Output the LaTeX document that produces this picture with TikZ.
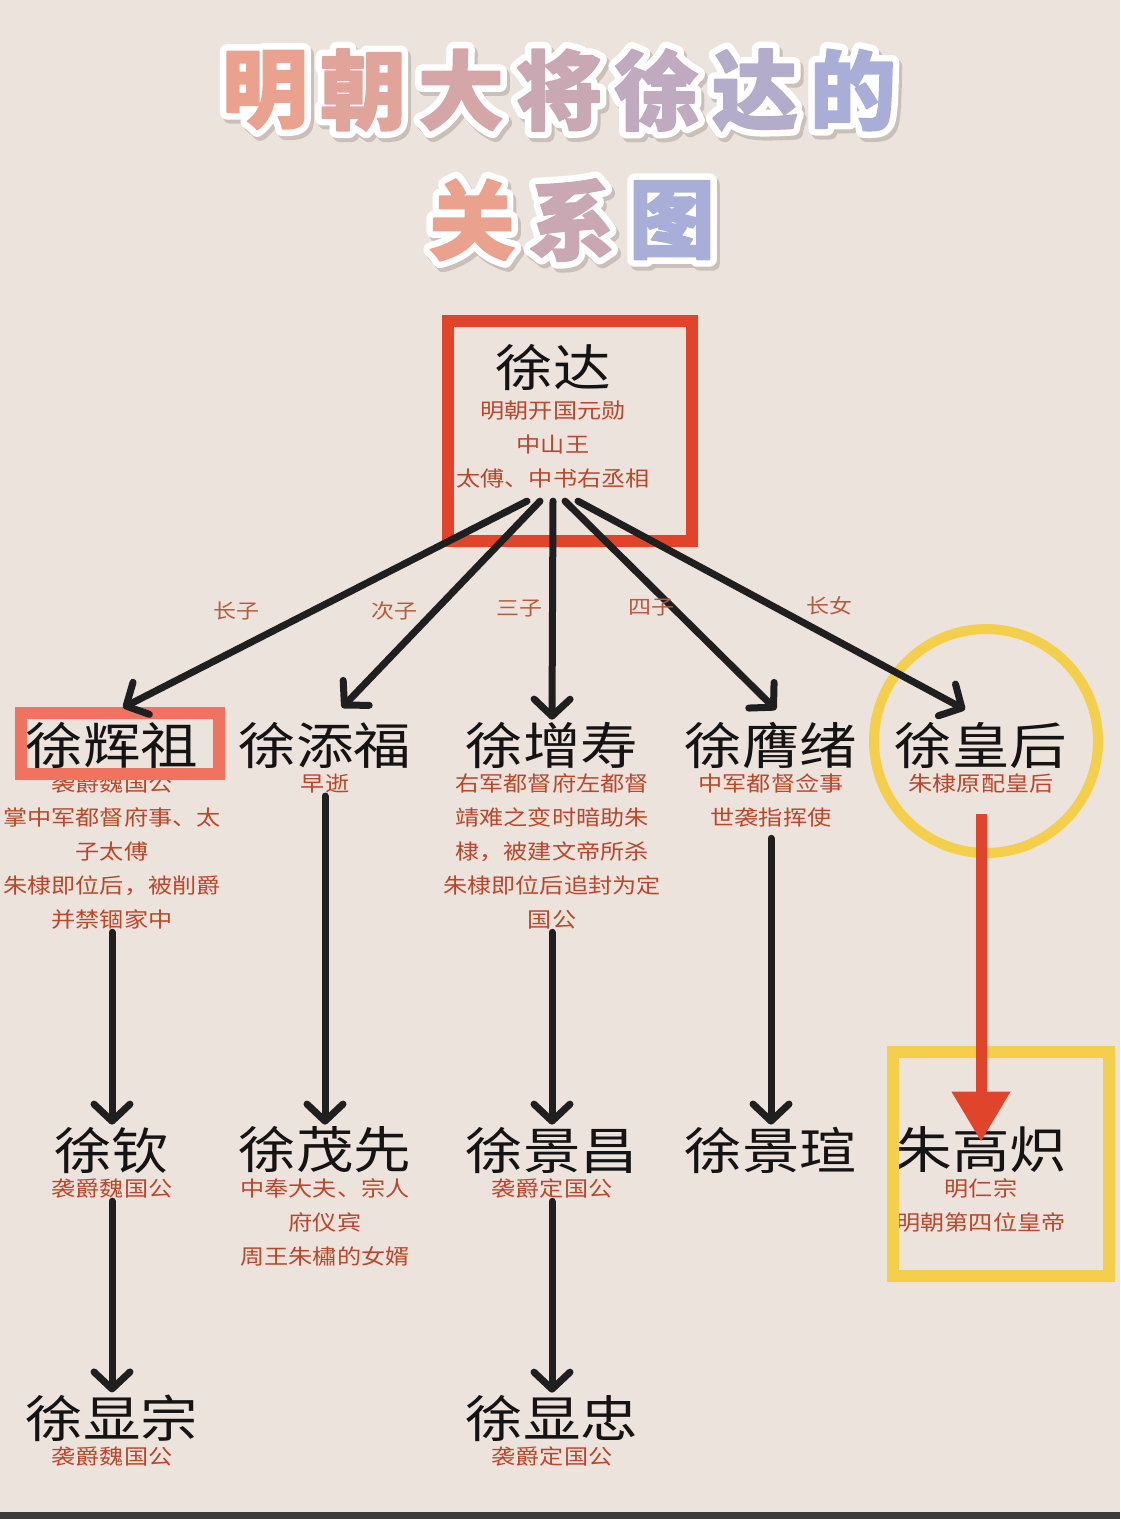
\documentclass[tikz,border=0pt]{standalone}
\usepackage{fontspec}
\newfontfamily\cjk{Noto Sans CJK SC}[FakeStretch=1.15]
\newfontfamily\cjktitle{Noto Sans CJK SC}[FakeBold=2]
\newfontfamily\cjkrim{Noto Sans CJK SC}[FakeBold=17]
\usetikzlibrary{arrows.meta,positioning,calc}
\definecolor{paper}{HTML}{EDE3DD}
\definecolor{notebrown}{HTML}{B9472A}
\definecolor{relbrown}{HTML}{B65B3D}
\definecolor{rootred}{HTML}{E2432B}
\definecolor{sonsalmon}{HTML}{EF735F}
\definecolor{gold}{HTML}{F4CF4C}
\definecolor{arrowred}{HTML}{E0452B}
\definecolor{titlestart}{HTML}{EAA28E}
\definecolor{titleend}{HTML}{A9AED8}
\definecolor{titleshadow}{HTML}{CBBFB9}
\definecolor{strip}{HTML}{3B3B3B}
\tikzset{
    person/.style = {
        font=\cjk\fontsize{50}{50}\selectfont,
        text=black!92,
        inner sep=2pt,
        },
    remark/.style = {
        font=\cjk\fontsize{21}{34}\selectfont,
        text=notebrown,
        align=center,
        inner sep=3pt,
        },
    rel/.style = {
        font=\cjk\fontsize{20}{24}\selectfont,
        text=relbrown,
        },
    descent/.style = {
        draw=black!88,
        line width=7pt,
        line cap=round,
        -{Straight Barb[round,length=17pt,width=36pt]},
        },
    royal descent/.style = {
        draw=arrowred,
        line width=11pt,
        -{Triangle[length=50pt,width=56pt]},
        },
    title char/.style = {
        font=\cjktitle\bfseries\fontsize{86}{86}\selectfont,
        inner sep=0pt,
        line join=round,
        },
    title rim/.style = {
        font=\cjkrim\bfseries\fontsize{86}{86}\selectfont,
        inner sep=0pt,
        line join=round,
        },
    root frame/.style = {
        draw=rootred,
        line width=12pt,
        },
    son frame/.style = {
        draw=sonsalmon,
        line width=12pt,
        },
    gold frame/.style = {
        draw=gold,
        line width=12pt,
        },
}
\begin{document}
\begin{tikzpicture}[x=1pt,y=-1pt]
    \useasboundingbox (0,0) rectangle (1120,1519);
    \fill[paper] (0,0) rectangle (1120,1519);
    \fill[strip] (0,1512) rectangle (1120,1519);

    \foreach \ch [count=\i] in {明,朝,大,将,徐,达,的} {
        \pgfmathtruncatemacro\pct{(\i-1)*100/6}
        \node[title rim, text=titleshadow, xshift=3pt, yshift=-4pt] at ({559+(\i-4)*98},90) {\ch};
        \node[title rim, text=white] (r1-\i) at ({559+(\i-4)*98},90) {\ch};
        \node[title char, text=titleend!\pct!titlestart] (t1-\i) at ({559+(\i-4)*98},90) {\ch};
    }
    \foreach \ch [count=\i] in {关,系,图} {
        \pgfmathtruncatemacro\pct{(\i-1)*50}
        \node[title rim, text=titleshadow, xshift=3pt, yshift=-4pt] at ({572+(\i-2)*100},220) {\ch};
        \node[title rim, text=white] (r2-\i) at ({572+(\i-2)*100},220) {\ch};
        \node[title char, text=titleend!\pct!titlestart] (t2-\i) at ({572+(\i-2)*100},220) {\ch};
    }

    \node[person] (xd) at (553,367) {徐达};
    \node[remark, below=5pt of xd] (xd-sub) {明朝开国元勋\\中山王\\太傅、中书右丞相};

    \node[person] (hz) at (112,745) {徐辉祖};
    \node[remark, below=0pt of hz] (hz-sub) {袭爵魏国公\\掌中军都督府事、太\\子太傅\\朱棣即位后，被削爵\\并禁锢家中};
    \node[person] (tf) at (325,745) {徐添福};
    \node[remark, below=0pt of tf] (tf-sub) {早逝};
    \node[person] (zs) at (552,745) {徐增寿};
    \node[remark, below=0pt of zs] (zs-sub) {右军都督府左都督\\靖难之变时暗助朱\\棣，被建文帝所杀\\朱棣即位后追封为定\\国公};
    \node[person] (yx) at (771,745) {徐膺绪};
    \node[remark, below=0pt of yx] (yx-sub) {中军都督佥事\\世袭指挥使};
    \node[person] (hh) at (981,745) {徐皇后};
    \node[remark, below=0pt of hh] (hh-sub) {朱棣原配皇后};

    \node[person] (qin) at (112,1150) {徐钦};
    \node[remark, below=0pt of qin] (qin-sub) {袭爵魏国公};
    \node[person] (mx) at (325,1150) {徐茂先};
    \node[remark, below=0pt of mx] (mx-sub) {中奉大夫、宗人\\府仪宾\\周王朱橚的女婿};
    \node[person] (jc) at (552,1150) {徐景昌};
    \node[remark, below=0pt of jc] (jc-sub) {袭爵定国公};
    \node[person] (jx) at (771,1150) {徐景瑄};
    \node[person] (gc) at (981,1150) {朱高炽};
    \node[remark, below=0pt of gc] (gc-sub) {明仁宗\\明朝第四位皇帝};

    \node[person] (xz) at (112,1418) {徐显宗};
    \node[remark, below=0pt of xz] (xz-sub) {袭爵魏国公};
    \node[person] (xzh) at (552,1418) {徐显忠};
    \node[remark, below=0pt of xzh] (xzh-sub) {袭爵定国公};

    \draw[root frame] (448,321) rectangle (692,541);
    \draw[son frame] (21,713) rectangle (219,774);
    \draw[draw=gold, line width=10pt] (986,741) circle [radius=112pt];
    \draw[gold frame] (893,1052) rectangle (1109,1276);

    \coordinate[below=10pt of xd-sub] (fan);
    \draw[descent] ([xshift=-26pt]fan) -- node[rel, pos=0.53, xshift=-76pt] {长子} ([shift={(11pt,12pt)}]hz.north);
    \draw[descent] ([xshift=-13pt]fan) -- node[rel, pos=0.53, xshift=-41pt] {次子} ([shift={(17pt,12pt)}]tf.north);
    \draw[descent] (fan) -- node[rel, pos=0.49, xshift=-33pt] {三子} (zs.north);
    \draw[descent] ([xshift=12pt]fan) -- node[rel, pos=0.51, xshift=-21pt] {四子} ([shift={(5pt,10pt)}]yx.north);
    \draw[descent] ([xshift=25pt]fan) -- node[rel, pos=0.5, xshift=58pt] {长女} ([shift={(-16pt,10pt)}]hh.north);

    \draw[descent] (hz-sub) -- (qin);
    \draw[descent] (tf-sub) -- (mx);
    \draw[descent] (zs-sub) -- (jc);
    \draw[descent] ([yshift=-8pt]yx-sub.south) -- (jx);
    \draw[royal descent, shorten <=18pt] (hh-sub.south) -- ([yshift=-17pt]gc.north);
    \draw[descent] (qin-sub) -- (xz);
    \draw[descent] (jc-sub) -- (xzh);
\end{tikzpicture}
\end{document}
